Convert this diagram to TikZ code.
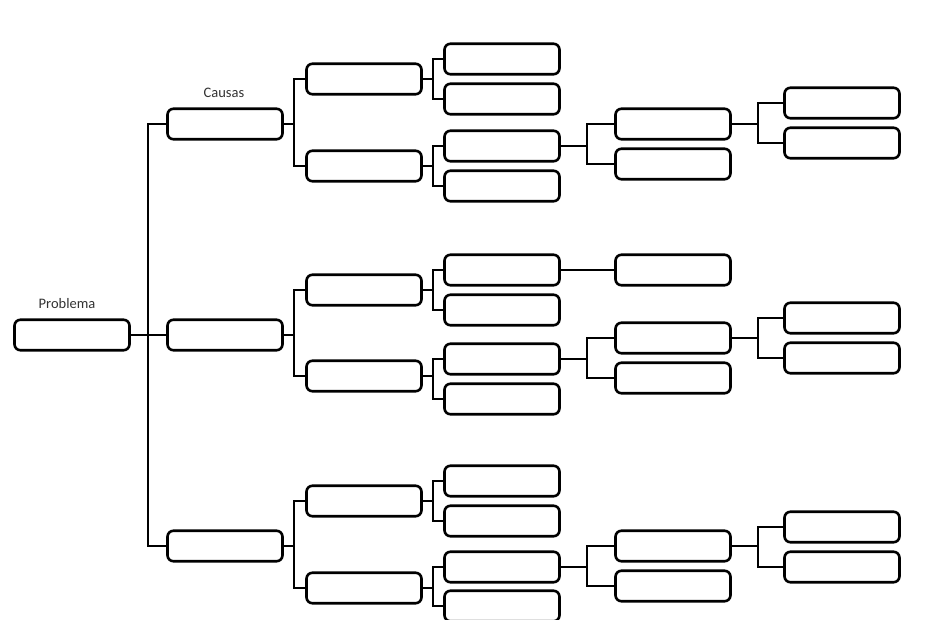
\documentclass[tikz,border=0pt]{standalone}
\usepackage{fontspec}
\setmainfont{Carlito}
\usetikzlibrary{positioning}
\tikzset{
  box/.style={draw=black, rounded corners=6pt, line width=2.6pt, fill=white,
              minimum width=115pt, minimum height=30.5pt, inner sep=0pt},
  link/.style={draw=black, line width=1.7pt},
  lbl/.style={font=\fontsize{14.5}{16}\selectfont, text=black!80, inner sep=0pt},
}
\begin{document}
\begin{tikzpicture}[x=1pt, y=-1pt]
  \clip (0,0) rectangle (930,620);
  \fill[white] (0,0) rectangle (930,620);
  % problem and causes
  \node[box] (prob) at (72,335) {};
  \node[lbl, anchor=base] (tprob) at (67,309) {Problema};
  \node[box] (cau1) at (225,124) {};
  \node[box] (cau2) at (225,335) {};
  \node[box] (cau3) at (225,546) {};
  \node[lbl, anchor=base] (tcau) at (224,98) {Causas};
  % second level
  \node[box] (a1) at (364,79)  {};
  \node[box] (a2) at (364,166) {};
  \node[box] (a3) at (364,290) {};
  \node[box] (a4) at (364,376) {};
  \node[box] (a5) at (364,501) {};
  \node[box] (a6) at (364,588) {};
  % third level
  \node[box] (b1)  at (502,59)  {};
  \node[box] (b2)  at (502,99)  {};
  \node[box] (b3)  at (502,146) {};
  \node[box] (b4)  at (502,186) {};
  \node[box] (b5)  at (502,270) {};
  \node[box] (b6)  at (502,310) {};
  \node[box] (b7)  at (502,359) {};
  \node[box] (b8)  at (502,399) {};
  \node[box] (b9)  at (502,481) {};
  \node[box] (b10) at (502,521) {};
  \node[box] (b11) at (502,567) {};
  \node[box] (b12) at (502,606) {};
  % fourth level
  \node[box] (d1) at (673,124) {};
  \node[box] (d2) at (673,164) {};
  \node[box] (d3) at (673,270) {};
  \node[box] (d4) at (673,338) {};
  \node[box] (d5) at (673,378) {};
  \node[box] (d6) at (673,546) {};
  \node[box] (d7) at (673,586) {};
  % fifth level
  \node[box] (e1) at (842,103) {};
  \node[box] (e2) at (842,143) {};
  \node[box] (e3) at (842,318) {};
  \node[box] (e4) at (842,358) {};
  \node[box] (e5) at (842,527) {};
  \node[box] (e6) at (842,567) {};
  % connectors
  \draw[link] (prob.east) -- (cau2.west);
  \draw[link] (prob.east) -- ++(17,0) |- (cau1.west);
  \draw[link] (prob.east) -- ++(17,0) |- (cau3.west);
  \foreach \p/\u/\v in {cau1/a1/a2, cau2/a3/a4, cau3/a5/a6,
                        a1/b1/b2, a2/b3/b4, a3/b5/b6, a4/b7/b8, a5/b9/b10, a6/b11/b12} {
    \draw[link] (\p.east) -- ++(10,0) |- (\u.west);
    \draw[link] (\p.east) -- ++(10,0) |- (\v.west);
  }
  \draw[link] (b5.east) -- (d3.west);
  \foreach \p/\u/\v in {b3/d1/d2, b7/d4/d5, b11/d6/d7,
                        d1/e1/e2, d4/e3/e4, d6/e5/e6} {
    \draw[link] (\p.east) -- ++(26,0) |- (\u.west);
    \draw[link] (\p.east) -- ++(26,0) |- (\v.west);
  }
\end{tikzpicture}
\end{document}
